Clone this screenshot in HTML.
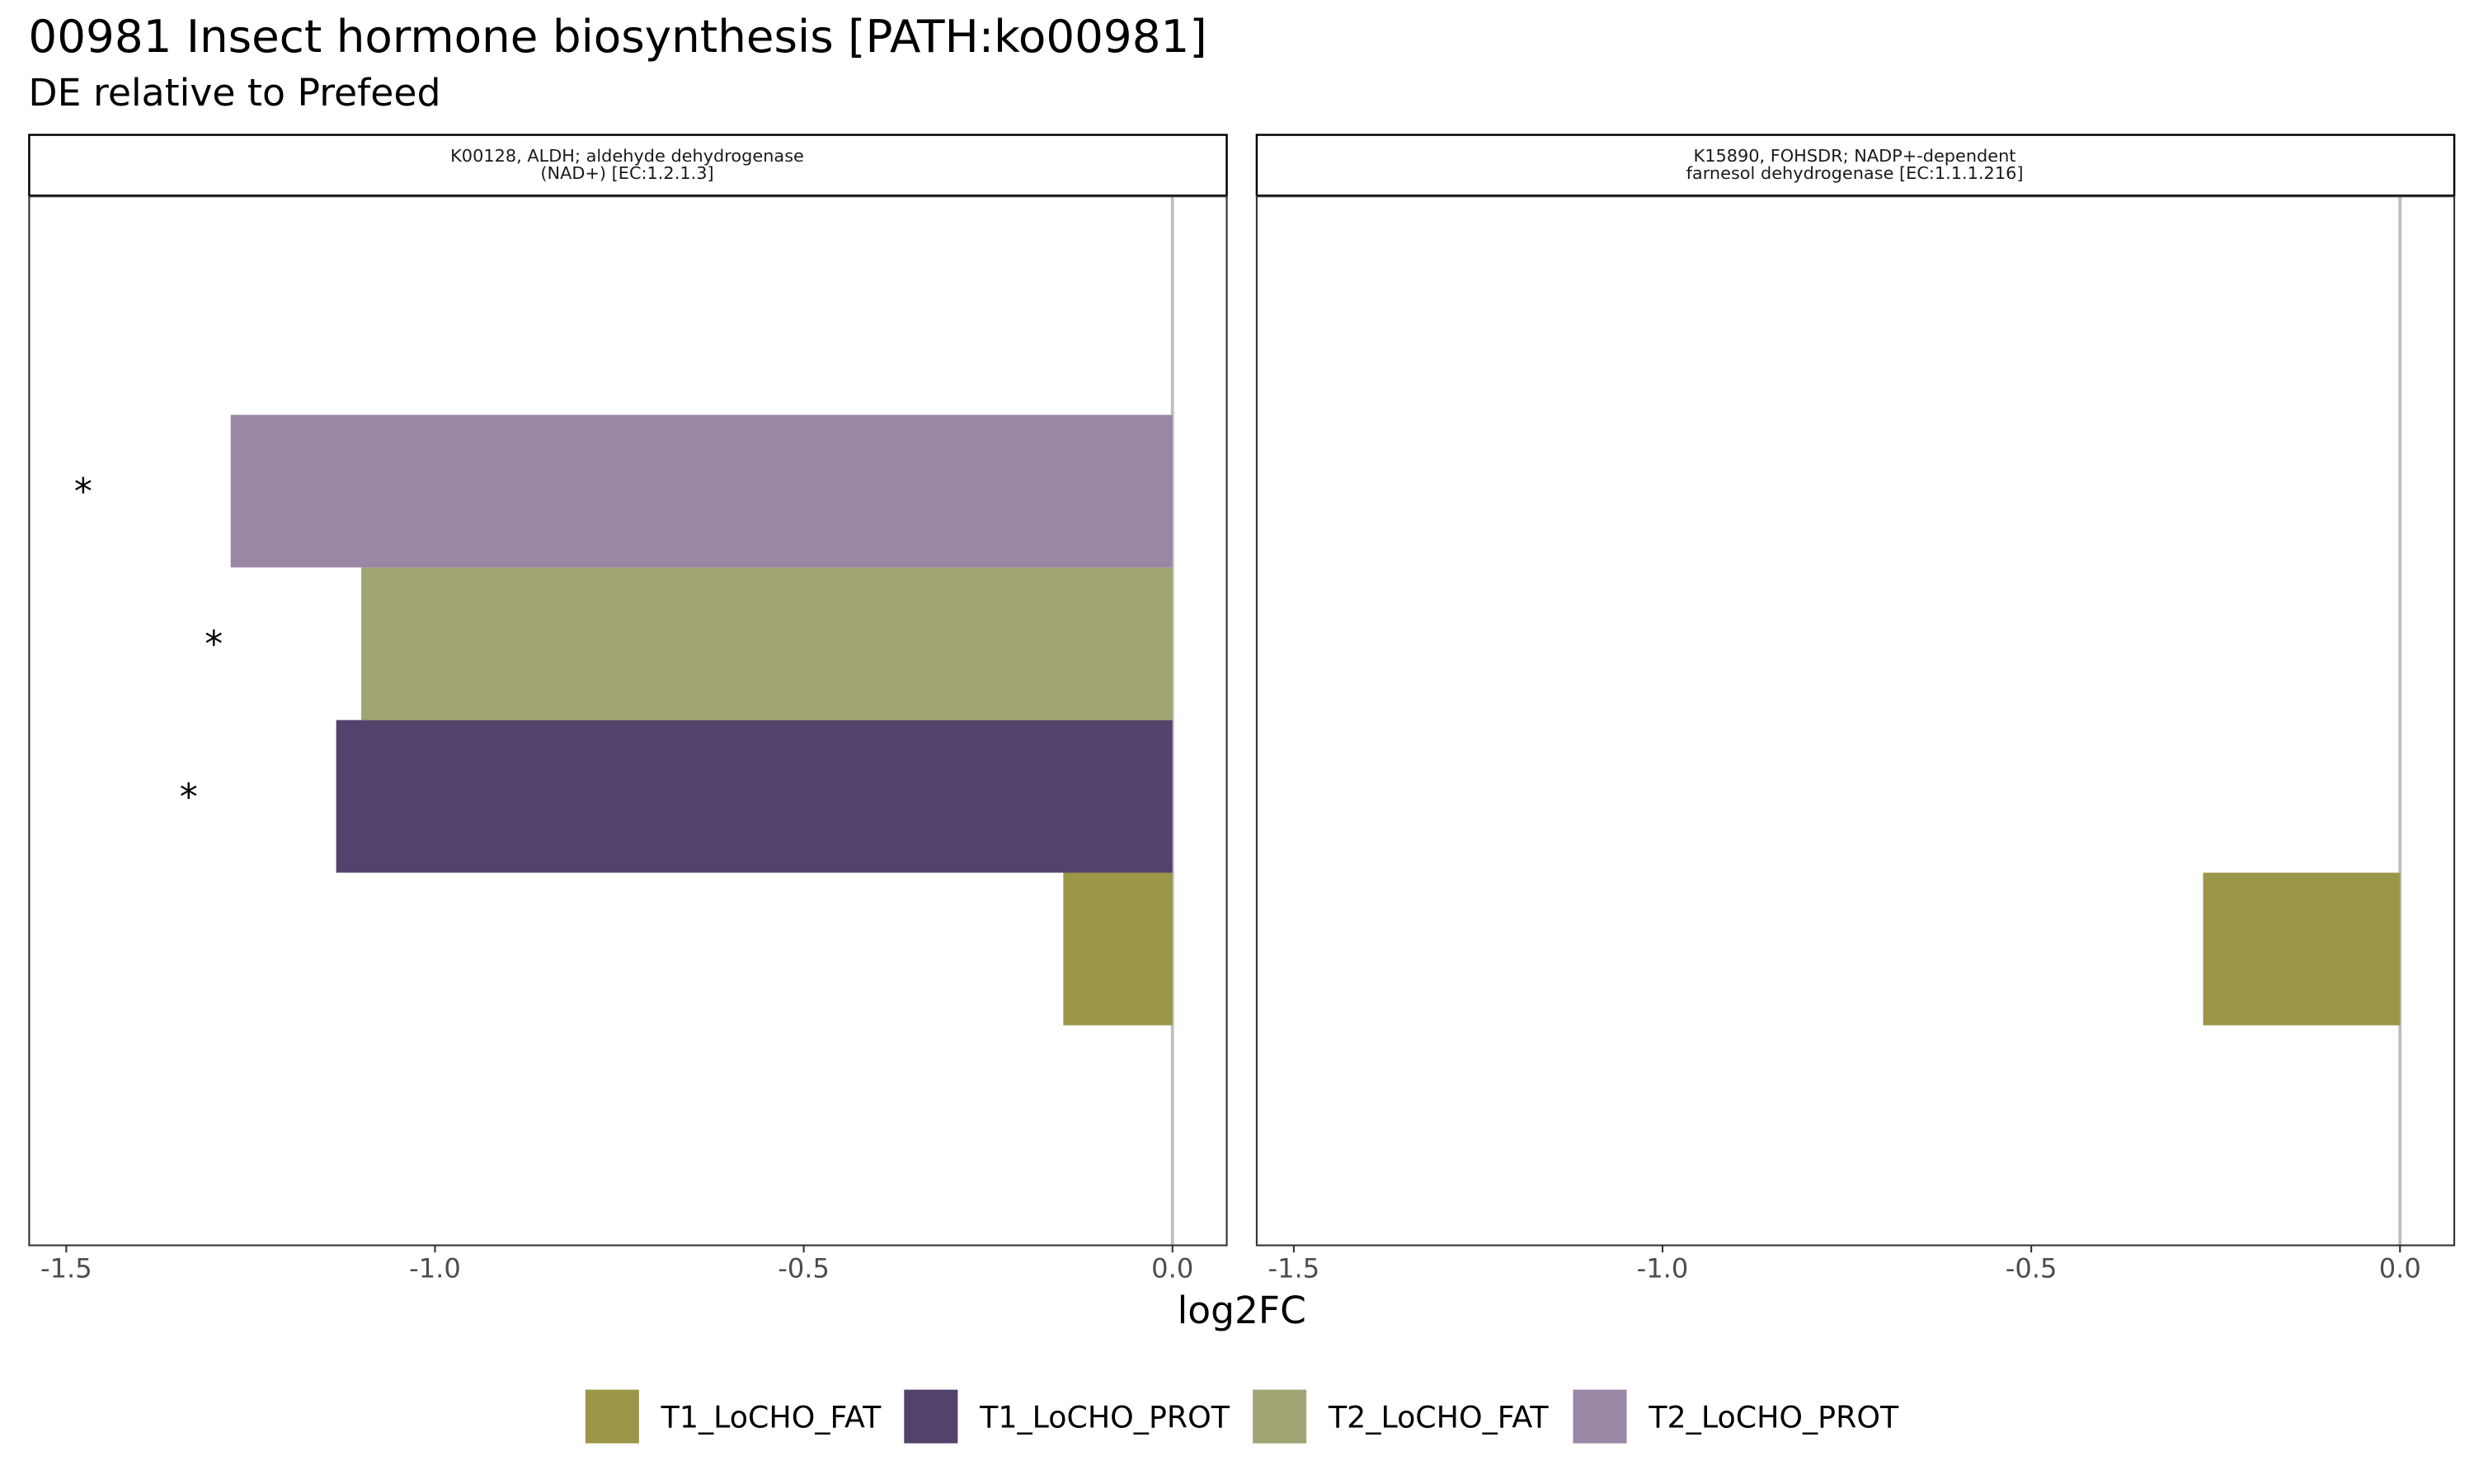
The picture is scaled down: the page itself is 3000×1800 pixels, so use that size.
<!DOCTYPE html>
<html><head><meta charset="utf-8"><style>
html,body{margin:0;padding:0;background:#fff;}
svg{display:block;font-family:"DejaVu Sans","Liberation Sans",sans-serif;}
</style></head><body>
<svg id="chart" width="3000" height="1800" viewBox="0 0 1568 940.8" xmlns="http://www.w3.org/2000/svg">
<rect width="1568" height="940.8" fill="#fff"/>
<text x="18" y="33" font-size="28.6" fill="#000">00981 Insect hormone biosynthesis [PATH:ko00981]</text>
<text x="18" y="67" font-size="23.9" fill="#000">DE relative to Prefeed</text>
<g id="panels"></g>
<text x="787" y="839" font-size="23.8" text-anchor="middle" fill="#000">log2FC</text>
<g id="legend"></g>
</svg>
<script>
const series = ["T1_LoCHO_FAT","T1_LoCHO_PROT","T2_LoCHO_FAT","T2_LoCHO_PROT"];
const colors = ["#9c9648","#52436d","#a2a474","#9a87a5"];
const panelTitles = [["K00128, ALDH; aldehyde dehydrogenase","(NAD+) [EC:1.2.1.3]"],["K15890, FOHSDR; NADP+-dependent","farnesol dehydrogenase [EC:1.1.1.216]"]];
const panel1Values = [-0.148, -1.134, -1.10, -1.277];
const panel2Values = [-0.267, null, null, null];
const panel1Sig = [false, true, true, true];
const panel2Sig = [false, false, false, false];
const xTicks = [-1.5, -1.0, -0.5, 0.0];
const xTickLabels = ["-1.5","-1.0","-0.5","0.0"];

const NS = "http://www.w3.org/2000/svg";
function mk(tag, attrs, parent){const e=document.createElementNS(NS,tag);for(const k in attrs)e.setAttribute(k,attrs[k]);parent.appendChild(e);return e;}
const panelsG = document.getElementById("panels");
const panelLeft = [18, 796];
const panelW = 759, plotTop = 124, plotBot = 789;
const allVals = [panel1Values, panel2Values];
const allSig = [panel1Sig, panel2Sig];
function xScale(p, v){ return panelLeft[p] + 24 + (v + 1.5) * 467.4; }
const groupCenter = 456.5, bandH = 96.75;
function yTop(i){ return groupCenter + (1 - i) * bandH; }

for (let p = 0; p < 2; p++) {
  const g = mk("g", {}, panelsG);
  
  
  const L = panelLeft[p];
  const strip = mk("rect", {x:L+0.5, y:85.5, width:panelW, height:38.5, fill:"#fff", stroke:"#000", "stroke-width":1.3}, g);
  
  
  panelTitles[p].forEach((t, k) => {
    const tx = mk("text", {x:L+panelW/2, y:102.5+k*10.8, "font-size":10.9, "text-anchor":"middle", fill:"#1a1a1a"}, g);
    tx.textContent = t;
    
    
  });
  const bg = mk("rect", {x:L+0.5, y:plotTop+0.5, width:panelW, height:plotBot-plotTop, fill:"#fff"}, g);
  
  
  const zero = mk("line", {x1:xScale(p,0), x2:xScale(p,0), y1:plotTop, y2:plotBot, stroke:"#bebebe", "stroke-width":2}, g);
  
  
  allVals[p].forEach((v, i) => {
    if (v === null) return;
    const x0 = xScale(p, 0), x1 = xScale(p, v);
    const r = mk("rect", {x:Math.min(x0,x1), y:yTop(i), width:Math.abs(x1-x0), height:bandH, fill:colors[i]}, g);
    
    
    if (allSig[p][i]) {
      const s = mk("text", {x:xScale(p, v - 0.2), y:yTop(i)+bandH/2+8, "font-size":23, "text-anchor":"middle", fill:"#000"}, g);
      s.textContent = "*";
      
      
    }
  });
  const border = mk("rect", {x:L+0.5, y:plotTop+0.5, width:panelW, height:plotBot-plotTop, fill:"none", stroke:"#333", "stroke-width":1.1}, g);
  
  
  xTicks.forEach((t, k) => {
    const x = xScale(p, t);
    const tk = mk("line", {x1:x, x2:x, y1:plotBot, y2:plotBot+5, stroke:"#333", "stroke-width":1.1}, g);
    
    
    const lb = mk("text", {x:x, y:plotBot+21, "font-size":16.8, "text-anchor":"middle", fill:"#4d4d4d"}, g);
    lb.textContent = xTickLabels[k];
    
    
  });
}
const legendG = document.getElementById("legend");
const keyX = [371, 573, 794, 997];
series.forEach((s, i) => {
  const e = mk("g", {}, legendG);
  
  
  const k = mk("rect", {x:keyX[i], y:881, width:34, height:34, fill:colors[i]}, e);
  
  
  const t = mk("text", {x:keyX[i]+48, y:905, "font-size":19, fill:"#000"}, e);
  t.textContent = s;
  
  
});
</script>
</body></html>
